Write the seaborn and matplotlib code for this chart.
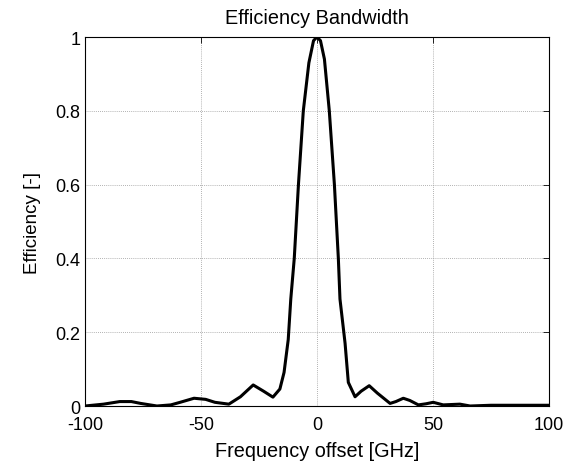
import matplotlib
matplotlib.use("Agg")
import matplotlib.pyplot as plt
import seaborn as sns
import pandas as pd

freq_offset = [-100, -92, -85, -80, -76, -69, -63, -59, -53, -48, -44, -38, -33,
               -27.5, -23, -19, -16, -14.2, -12.4, -11.3, -9.8, -8, -5.9, -3.5,
               -1.5, 0, 1.5, 3.2, 5.3, 7.5, 9.2, 9.9, 12.1, 13.5, 16.4, 19, 22.5,
               26, 31.5, 34, 37.2, 40, 43.7, 47, 50.1, 54.4, 58, 61.6, 66, 75, 85, 100]
efficiency = [0.0, 0.005, 0.012, 0.012, 0.007, 0.0, 0.003, 0.01, 0.021, 0.018, 0.01,
              0.005, 0.025, 0.057, 0.04, 0.024, 0.046, 0.091, 0.18, 0.29, 0.4, 0.6,
              0.8, 0.93, 0.99, 1.0, 0.99, 0.94, 0.8, 0.6, 0.4, 0.29, 0.17, 0.064,
              0.025, 0.04, 0.055, 0.035, 0.007, 0.012, 0.021, 0.015, 0.003, 0.006,
              0.01, 0.003, 0.004, 0.005, 0.0, 0.002, 0.002, 0.002]
x_ticks = [-100, -50, 0, 50, 100]
y_ticks = [0, 0.2, 0.4, 0.6, 0.8, 1]
y_tick_labels = ["0", "0.2", "0.4", "0.6", "0.8", "1"]

sns.set_style("white")
plt.rcParams['font.family'] = ['Liberation Sans', 'DejaVu Sans']
plt.rcParams['text.color'] = 'black'
plt.rcParams['axes.labelcolor'] = 'black'

df = pd.DataFrame({"f": freq_offset, "e": efficiency})

fig = plt.figure(figsize=(5.79, 4.64), dpi=100)
ax = fig.add_axes([85/579, 1 - 407/464, 464/579, 369/464])
sns.lineplot(data=df, x="f", y="e", ax=ax, color="black", linewidth=2.2, sort=False)

ax.set_xlim(-100, 100)
ax.set_ylim(0, 1)
ax.set_xticks(x_ticks)
ax.set_xticklabels([str(t) for t in x_ticks])
ax.set_yticks(y_ticks)
ax.set_yticklabels(y_tick_labels)
ax.grid(True, linestyle=(0, (1, 1.5)), color="#999999", linewidth=0.6)
ax.tick_params(direction="in", length=4, width=0.6, top=True, right=True,
               labelsize=13, colors="black")
ax.tick_params(axis="x", pad=7)
ax.tick_params(axis="y", pad=3.5)
for s in ax.spines.values():
    s.set_visible(True)
    s.set_color("black")
    s.set_linewidth(0.8)
ax.set_xlabel("Frequency offset [GHz]", fontsize=14.3, labelpad=6, color="black")
ax.set_ylabel("Efficiency [-]", fontsize=13.5, labelpad=10, color="black")
ax.set_title("Efficiency Bandwidth", fontsize=14.3, pad=10, color="black")

fig.savefig("out.png", dpi=100)
